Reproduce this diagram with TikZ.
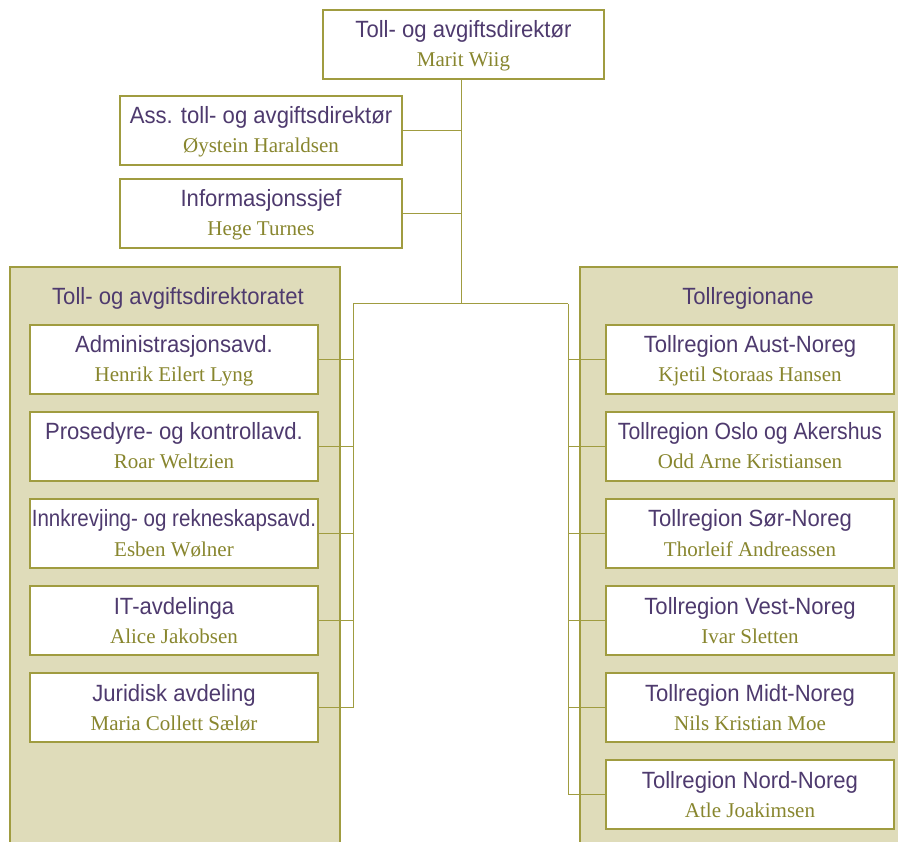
\documentclass[tikz,border=0pt]{standalone}
\usepackage{fontspec}
\usepackage{tikz}
\setmainfont{Liberation Serif}
\newfontfamily\headfont[FakeStretch=0.94]{Liberation Sans}
\definecolor{headcol}{RGB}{78,58,110}
\definecolor{namecol}{RGB}{136,134,46}
\definecolor{edgecol}{RGB}{160,156,64}
\definecolor{groupcol}{RGB}{223,220,186}

% one white box with a title and a person's name
\newcommand{\orgbox}[6]{%
  \node[unitbox, minimum width=#4pt] (#1) at (#2,#3+34.5) {};
  \node[titletext] (#1T) at (#2,#3+28) {#5};
  \node[nametext] (#1N) at (#2,#3+57) {#6};
}

\begin{document}
\begin{tikzpicture}[x=1pt, y=-1pt,
    unitbox/.style={draw=edgecol, fill=white, line width=1.3pt, minimum height=69pt, inner sep=0pt},
    titletext/.style={anchor=base, inner sep=0pt, text=headcol, font=\headfont\fontsize{23.5}{26}\selectfont},
    nametext/.style={anchor=base, inner sep=0pt, text=namecol, font=\fontsize{21}{24}\selectfont},
    groupbox/.style={draw=edgecol, fill=groupcol, line width=1.3pt},
    link/.style={draw=edgecol, line width=1pt}]
  \useasboundingbox (0,0) rectangle (898,842);
  \clip (0,0) rectangle (898,842);

  % the two groups
  \draw[groupbox] (10,267) rectangle (340,860);
  \draw[groupbox] (580,267) rectangle (920,860);
  \node[titletext] (leftT) at (178,305) {Toll- og avgiftsdirektoratet};
  \node[titletext] (rightT) at (748,305) {Tollregionane};

  % top and staff
  \orgbox{dir}{463.5}{10}{281}{Toll- og avgiftsdirektør}{Marit Wiig}
  \orgbox{ass}{261}{96}{282}{Ass. toll- og avgiftsdirektør}{Øystein Haraldsen}
  \orgbox{info}{261}{179}{282}{Informasjonssjef}{Hege Turnes}

  % left column
  \orgbox{adm}{174}{325}{288}{Administrasjonsavd.}{Henrik Eilert Lyng}
  \orgbox{pro}{174}{412}{288}{Prosedyre- og kontrollavd.}{Roar Weltzien}
  \orgbox{inn}{174}{499}{288}{\scalebox{0.93}[1]{Innkrevjing- og rekneskapsavd.}}{Esben Wølner}
  \orgbox{it}{174}{586}{288}{IT-avdelinga}{Alice Jakobsen}
  \orgbox{jur}{174}{673}{288}{Juridisk avdeling}{Maria Collett Sælør}

  % right column
  \orgbox{aust}{750}{325}{288}{Tollregion Aust-Noreg}{Kjetil Storaas Hansen}
  \orgbox{oslo}{750}{412}{288}{\scalebox{0.96}[1]{Tollregion Oslo og Akershus}}{Odd Arne Kristiansen}
  \orgbox{sor}{750}{499}{288}{Tollregion Sør-Noreg}{Thorleif Andreassen}
  \orgbox{vest}{750}{586}{288}{Tollregion Vest-Noreg}{Ivar Sletten}
  \orgbox{midt}{750}{673}{288}{Tollregion Midt-Noreg}{Nils Kristian Moe}
  \orgbox{nord}{750}{760}{288}{Tollregion Nord-Noreg}{Atle Joakimsen}

  % connectors
  \coordinate (trunk) at ([xshift=-2.5pt]dir.south);
  \coordinate (busL) at (353,304);
  \coordinate (busR) at (568,304);
  \coordinate (busM) at (trunk |- busL);
  \draw[link] (trunk) -- (busM);
  \draw[link] (ass.east) -- (ass.east -| trunk);
  \draw[link] (info.east) -- (info.east -| trunk);
  \draw[link] (busL) -- (busR);
  \draw[link] (busL) -- (busL |- jur.east);
  \draw[link] (busR) -- (busR |- nord.west);
  \foreach \u in {adm,pro,inn,it,jur}
    \draw[link] (\u.east) -- (\u.east -| busL);
  \foreach \u in {aust,oslo,sor,vest,midt,nord}
    \draw[link] (\u.west) -- (\u.west -| busR);
\end{tikzpicture}
\end{document}
